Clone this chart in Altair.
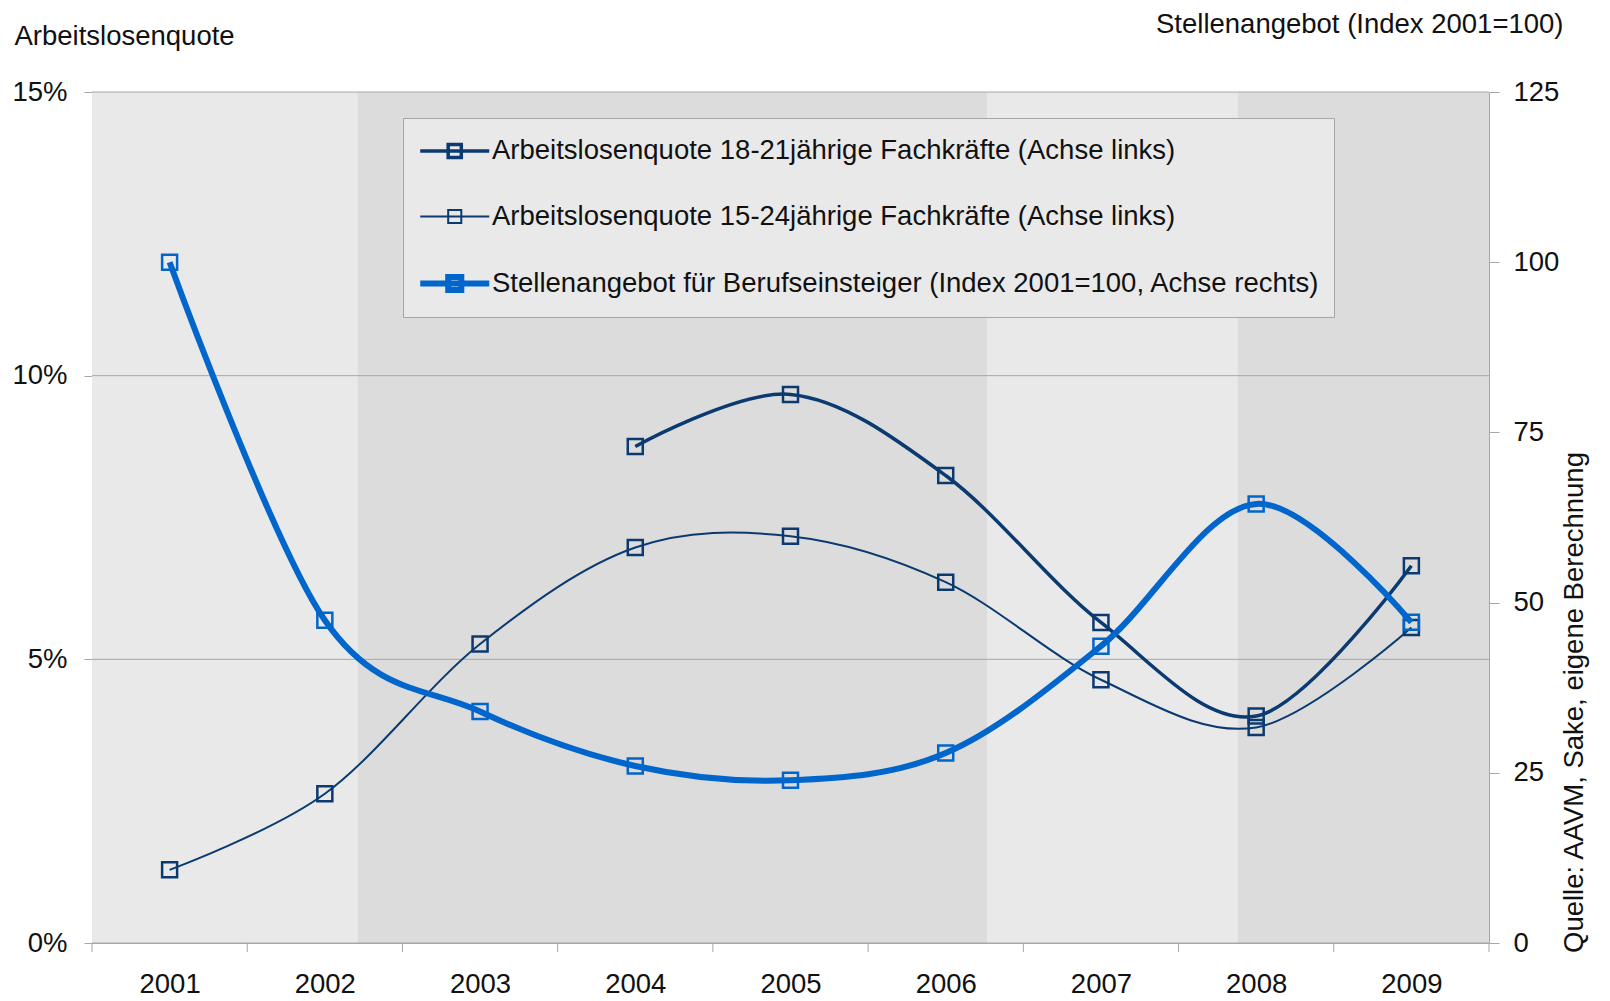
import altair as alt
import pandas as pd

# ---------------- data ----------------
jahre = [2001, 2002, 2003, 2004, 2005, 2006, 2007, 2008, 2009]
quote_18_21 = [None, None, None, 0.0875, 0.0967, 0.0824, 0.0565, 0.0400, 0.0665]
quote_15_24 = [0.0129, 0.0263, 0.0527, 0.0697, 0.0717, 0.0636, 0.0464, 0.0380, 0.0556]
stellenangebot = [100.0, 47.4, 34.0, 26.0, 23.9, 27.9, 43.6, 64.5, 47.1]

serien = [
    "Arbeitslosenquote 18-21jährige Fachkräfte (Achse links)",
    "Arbeitslosenquote 15-24jährige Fachkräfte (Achse links)",
    "Stellenangebot für Berufseinsteiger (Index 2001=100, Achse rechts)",
]
band_grenzen = [2000.5, 2002.21, 2006.27, 2007.88, 2009.5]
band_typ = ["hell", "dunkel", "hell", "dunkel"]
y_ticks_links = [0.0, 0.05, 0.10, 0.15]
y_ticks_rechts = [0, 25, 50, 75, 100, 125]
titel_links = "Arbeitslosenquote"
titel_rechts = "Stellenangebot (Index 2001=100)"
quelle = "Quelle: AAVM, Sake, eigene Berechnung"

# ---------------- styling ----------------
W, H = 1397, 851
FONT = "Liberation Sans"
FS = 27.5
NAVY = "#0a3a70"
BLUE = "#0066cc"
GRID = "#a6a6a6"
TXT = "#111111"

# ---------------- frames ----------------
rows_l = []
for j, a, b in zip(jahre, quote_18_21, quote_15_24):
    if a is not None:
        rows_l.append({"jahr": j, "wert": a, "serie": serien[0]})
    rows_l.append({"jahr": j, "wert": b, "serie": serien[1]})
df_l = pd.DataFrame(rows_l)
df_r = pd.DataFrame({"jahr": jahre, "wert": stellenangebot, "serie": serien[2]})
df_band = pd.DataFrame({"von": band_grenzen[:-1], "bis": band_grenzen[1:], "typ": band_typ})
df_ticks = pd.DataFrame({"g": [j - 0.5 for j in jahre] + [jahre[-1] + 0.5]})
df_grid = pd.DataFrame({"w": y_ticks_links})
df_q = pd.DataFrame({"t": [quelle]})

xscale = alt.Scale(domain=[band_grenzen[0], band_grenzen[-1]], nice=False, zero=False)
color_scale = alt.Scale(domain=serien, range=[NAVY, NAVY, BLUE])
sw_scale = alt.Scale(type="ordinal", domain=serien, range=[3.5, 2, 6])

sym_path = "M-1,0H3M0.62,-0.38H1.38V0.38H0.62Z"
leg = alt.Legend(
    title=None, orient="none", legendX=311, legendY=26, direction="vertical",
    fillColor="#e9e9e9", strokeColor=GRID, padding=14,
    symbolType=sym_path, symbolSize=1190, symbolFillColor="transparent",
    labelFont=FONT, labelFontSize=FS, labelColor=TXT, labelOffset=34,
    rowPadding=33, labelLimit=2000,
)

x_axis = alt.Axis(values=jahre, format="d", ticks=False, tickSize=0, labelPadding=27,
                  grid=False, title=None, domainColor=GRID)

bg = alt.Chart(df_band).mark_rect().encode(
    x=alt.X("von:Q", scale=xscale, axis=x_axis),
    x2="bis:Q",
    y=alt.value(0), y2=alt.value(H),
    fill=alt.Fill("typ:N", scale=alt.Scale(domain=["hell", "dunkel"], range=["#e9e9e9", "#dcdcdc"]), legend=None),
)

xticks = alt.Chart(df_ticks).mark_rule(color=GRID, strokeWidth=1).encode(
    x=alt.X("g:Q", scale=xscale), y=alt.value(H), y2=alt.value(H + 9)
)

yl = alt.Y("wert:Q", scale=alt.Scale(domain=[0, 0.15], nice=False),
           axis=alt.Axis(orient="left", values=y_ticks_links, format=".0%", grid=False,
                         tickSize=8, labelPadding=17, domainColor=GRID, tickColor=GRID,
                         title=titel_links, titleAngle=0, titleAlign="left", titleBaseline="alphabetic",
                         titleX=-78, titleY=-48, titleFont=FONT, titleFontSize=FS,
                         titleFontWeight="normal", titleColor=TXT))
grid = alt.Chart(df_grid).mark_rule(color=GRID, strokeWidth=1).encode(
    y=alt.Y("w:Q", scale=alt.Scale(domain=[0, 0.15], nice=False)), x=alt.value(0), x2=alt.value(W)
)
pts_l = alt.Chart(df_l).mark_point(shape="square", filled=False, size=225, strokeWidth=2.5, opacity=1).encode(
    x=alt.X("jahr:Q", scale=xscale), y=yl,
    color=alt.Color("serie:N", scale=color_scale, legend=leg),
)
lines_l = alt.Chart(df_l).mark_line(interpolate="cardinal").encode(
    x=alt.X("jahr:Q", scale=xscale), y=yl,
    color=alt.Color("serie:N", scale=color_scale, legend=leg),
    strokeWidth=alt.StrokeWidth("serie:N", scale=sw_scale, legend=leg),
    detail="serie:N",
)
left = alt.layer(grid, pts_l, lines_l)

yr = alt.Y("wert:Q", scale=alt.Scale(domain=[0, 125], nice=False),
           axis=alt.Axis(orient="right", values=y_ticks_rechts, grid=False,
                         tickSize=10, labelPadding=14, domainColor=GRID, tickColor=GRID,
                         title=titel_rechts, titleAngle=0, titleAlign="right", titleBaseline="alphabetic",
                         titleX=74, titleY=-60, titleFont=FONT, titleFontSize=FS,
                         titleFontWeight="normal", titleColor=TXT))
pts_r = alt.Chart(df_r).mark_point(shape="square", filled=False, size=225, strokeWidth=2.5, opacity=1).encode(
    x=alt.X("jahr:Q", scale=xscale), y=yr,
    color=alt.Color("serie:N", scale=color_scale, legend=leg),
)
lines_r = alt.Chart(df_r).mark_line(interpolate="cardinal").encode(
    x=alt.X("jahr:Q", scale=xscale), y=yr,
    color=alt.Color("serie:N", scale=color_scale, legend=leg),
    strokeWidth=alt.StrokeWidth("serie:N", scale=sw_scale, legend=leg),
)
right = alt.layer(pts_r, lines_r)

src = alt.Chart(df_q).mark_text(angle=270, align="left", baseline="middle", font=FONT,
                                fontSize=FS, color=TXT).encode(
    text="t:N", x=alt.value(W + 86), y=alt.value(H + 10)
)

chart = alt.layer(bg, xticks, left, right, src).resolve_scale(y="independent").properties(
    width=W, height=H,
    padding={"left": 84, "top": 84, "right": 113, "bottom": 58},
    autosize=alt.AutoSizeParams(type="none"),
).configure_view(stroke=None).configure_axis(
    labelFont=FONT, labelFontSize=FS, labelColor=TXT,
)

chart.save("out.html", embed_options={"renderer": "svg", "actions": False})
